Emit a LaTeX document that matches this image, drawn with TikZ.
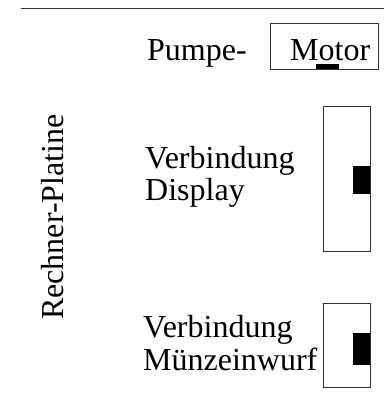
\documentclass[tikz,border=0pt]{standalone}
\usepackage{fontspec}
\setmainfont{Liberation Serif}
\begin{document}
\begin{tikzpicture}[x=1pt,y=-1pt,
  lbl/.style={inner sep=0pt,anchor=base west,font=\fontsize{32}{33}\selectfont,align=left},
  frame/.style={draw=black!80,line width=0.8pt},
  plug/.style={fill=black}]
\useasboundingbox (0,0) rectangle (384,406);
\draw[black!80,line width=0.8pt] (21,8) -- (384,8);
% Motor
\node[lbl] (pumpe) at (147,61) {Pumpe-};
\draw[frame] (270,23) rectangle (378,69);
\node[lbl] (motor) at (290,61) {Motor};
\fill[plug] (316,64) rectangle (339,69);
% Display
\node[lbl] (vd1) at (145,168) {Verbindung};
\node[lbl] (vd2) at (145,200) {Display};
\draw[frame] (323,106) rectangle (370,251);
\fill[plug] (353,166) rectangle (370,194);
% Muenz
\node[lbl] (vm1) at (143,337) {Verbindung};
\node[lbl] (vm2) at (143,370) {Münzeinwurf};
\draw[frame] (323,303) rectangle (370,387);
\fill[plug] (353,333) rectangle (370,365);
% Rechner
\node[lbl,rotate=90] (rp) at (63,320) {Rechner-Platine};
\end{tikzpicture}
\end{document}
